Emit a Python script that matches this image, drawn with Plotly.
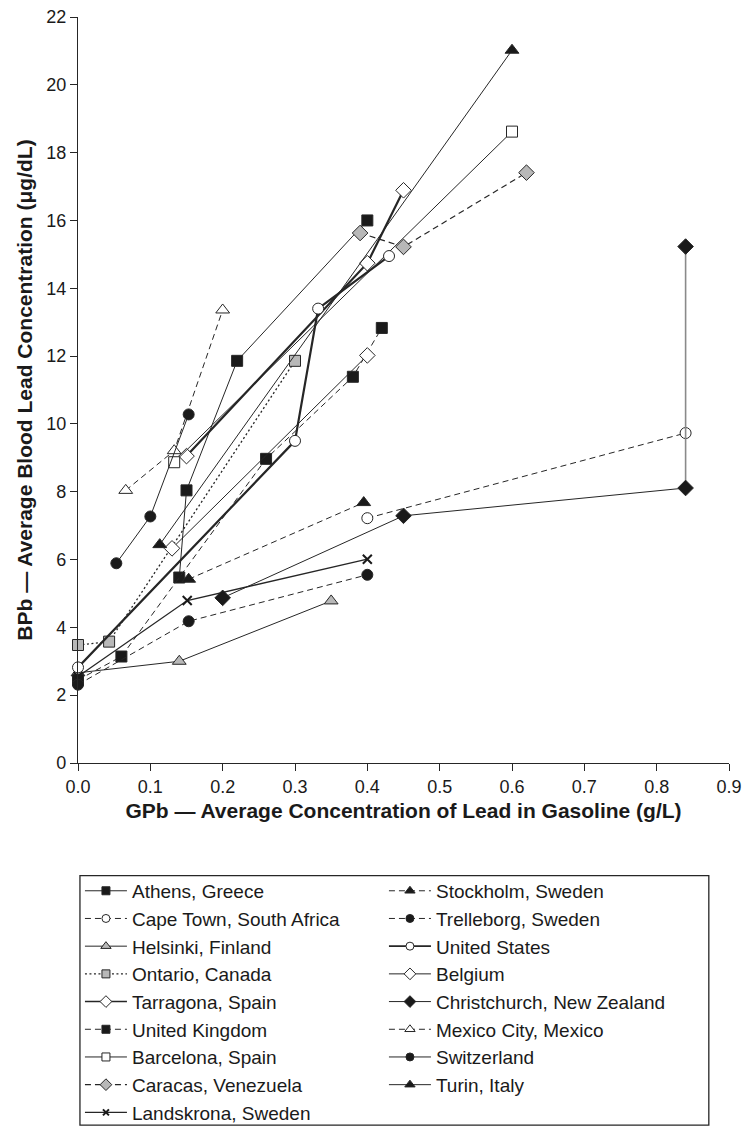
import plotly.graph_objects as go

# ---------------- data ----------------
athens_x = [0.14, 0.15, 0.22, 0.40]
athens_y = [5.47, 8.04, 11.86, 16.0]
capetown_x = [0.40, 0.84]
capetown_y = [7.22, 9.73]
helsinki_x = [0.0, 0.14, 0.35]
helsinki_y = [2.66, 3.0, 4.78]
ontario_x = [0.0, 0.043, 0.30]
ontario_y = [3.48, 3.58, 11.86]
tarragona_x = [0.15, 0.40, 0.45]
tarragona_y = [9.05, 14.74, 16.89]
uk_x = [0.0, 0.06, 0.26, 0.38, 0.42]
uk_y = [2.45, 3.14, 8.97, 11.39, 12.83]
barcelona_x = [0.133, 0.60]
barcelona_y = [8.87, 18.62]
caracas_x = [0.39, 0.45, 0.62]
caracas_y = [15.63, 15.22, 17.41]
landskrona_x = [0.0, 0.151, 0.40]
landskrona_y = [2.55, 4.79, 6.01]
stockholm_x = [0.153, 0.395]
stockholm_y = [5.42, 7.68]
trelleborg_x = [0.0, 0.153, 0.40]
trelleborg_y = [2.31, 4.18, 5.55]
us_x = [0.0, 0.30, 0.332, 0.43]
us_y = [2.82, 9.5, 13.4, 14.95]
belgium_x = [0.13, 0.40]
belgium_y = [6.33, 12.02]
christchurch_x = [0.20, 0.45, 0.84, 0.84]
christchurch_y = [4.87, 7.29, 8.11, 15.23]
mexico_x = [0.066, 0.133, 0.20]
mexico_y = [8.04, 9.21, 13.36]
switzerland_x = [0.053, 0.10, 0.153]
switzerland_y = [5.89, 7.27, 10.28]
turin_x = [0.113, 0.60]
turin_y = [6.44, 21.02]

x_ticks = [0.0, 0.1, 0.2, 0.3, 0.4, 0.5, 0.6, 0.7, 0.8, 0.9]
y_ticks = [0, 2, 4, 6, 8, 10, 12, 14, 16, 18, 20, 22]

# ---------------- styles ----------------
INK = "#262626"
BLACK = "#1a1a1a"
GRAY = "#b8b8b8"
WHITE = "#ffffff"
DASH = "6px,4px"
DOT = "2px,2.5px"

# name, x, y, symbol, fill, dash, width
series = [
    ("Athens, Greece", athens_x, athens_y, "square", BLACK, "solid", 1),
    ("Cape Town, South Africa", capetown_x, capetown_y, "circle", WHITE, DASH, 1),
    ("Helsinki, Finland", helsinki_x, helsinki_y, "triangle-up", GRAY, "solid", 1),
    ("Ontario, Canada", ontario_x, ontario_y, "square", GRAY, DOT, 1.3),
    ("Tarragona, Spain", tarragona_x, tarragona_y, "diamond", WHITE, "solid", 2.2),
    ("United Kingdom", uk_x, uk_y, "square", BLACK, DASH, 1),
    ("Barcelona, Spain", barcelona_x, barcelona_y, "square", WHITE, "solid", 1),
    ("Caracas, Venezuela", caracas_x, caracas_y, "diamond", GRAY, DASH, 1.2),
    ("Landskrona, Sweden", landskrona_x, landskrona_y, "x-thin", BLACK, "solid", 1.3),
    ("Stockholm, Sweden", stockholm_x, stockholm_y, "triangle-up", BLACK, DASH, 1),
    ("Trelleborg, Sweden", trelleborg_x, trelleborg_y, "circle", BLACK, DASH, 1),
    ("United States", us_x, us_y, "circle", WHITE, "solid", 2.2),
    ("Belgium", belgium_x, belgium_y, "diamond", WHITE, "solid", 1),
    ("Christchurch, New Zealand", christchurch_x, christchurch_y, "diamond", BLACK, "solid", 1),
    ("Mexico City, Mexico", mexico_x, mexico_y, "triangle-up", WHITE, DASH, 1),
    ("Switzerland", switzerland_x, switzerland_y, "circle", BLACK, "solid", 1),
    ("Turin, Italy", turin_x, turin_y, "triangle-up", BLACK, "solid", 1),
]

fig = go.Figure()


def marker_for(sym, fill, size):
    if sym == "x-thin":
        return dict(symbol="x-thin", size=size - 2, line=dict(color=BLACK, width=2), color=BLACK)
    return dict(symbol=sym, size=size + (1 if sym in ("triangle-up", "diamond") else 0),
                color=fill, line=dict(color=INK, width=1))


for name, xs, ys, sym, fill, dash, w in series:
    if name.startswith("Christchurch"):
        # dark polyline for the first three points, gray vertical connector, then markers
        fig.add_trace(go.Scatter(x=xs[:3], y=ys[:3], mode="lines",
                                 line=dict(color=INK, width=w), showlegend=False,
                                 hoverinfo="skip"))
        fig.add_trace(go.Scatter(x=xs[2:], y=ys[2:], mode="lines",
                                 line=dict(color="#8a8a8a", width=1.6), showlegend=False,
                                 hoverinfo="skip"))
        fig.add_trace(go.Scatter(x=xs, y=ys, mode="markers", name=name,
                                 marker=marker_for(sym, fill, 11),
                                 showlegend=False, cliponaxis=False))
        continue
    fig.add_trace(go.Scatter(
        x=xs, y=ys, mode="lines+markers", name=name,
        line=dict(color=INK, width=w, dash=dash),
        marker=marker_for(sym, fill, 11),
        showlegend=False, cliponaxis=False,
    ))

# legend entries (two columns, column-major order -> interleave for horizontal legend)
col1 = series[:9]
col2 = series[9:]
order = []
for i in range(9):
    order.append(col1[i])
    if i < len(col2):
        order.append(col2[i])

for name, xs, ys, sym, fill, dash, w in order:
    fig.add_trace(go.Scatter(
        x=[None], y=[None], mode="lines+markers", name=name,
        line=dict(color=INK, width=min(w, 1.6), dash=dash),
        marker=marker_for(sym, fill, 8),
        showlegend=True,
    ))

fig.update_layout(
    width=745, height=1144,
    margin=dict(l=78, r=16, t=17, b=371),
    paper_bgcolor="white", plot_bgcolor="white",
    font=dict(family="Liberation Sans, Arial, sans-serif", size=18, color=BLACK),
    xaxis=dict(
        range=[0, 0.9], tickvals=x_ticks, ticktext=[f"{v:.1f}" for v in x_ticks],
        showgrid=False, zeroline=False, showline=True, linecolor=INK, linewidth=1.3,
        ticks="outside", ticklen=7, tickcolor=INK, tickwidth=1.3,
        tickfont=dict(size=18), ticklabeloverflow="allow", automargin=False,
        title=dict(text="<b>GPb — Average Concentration of Lead in Gasoline (g/L)</b>",
                   font=dict(size=21), standoff=7),
    ),
    yaxis=dict(
        range=[0, 22], tickvals=y_ticks,
        showgrid=False, zeroline=False, showline=True, linecolor=INK, linewidth=1.3,
        ticks="outside", ticklen=7, tickcolor=INK, tickwidth=1.3,
        tickfont=dict(size=18), ticklabeloverflow="allow", automargin=False,
        title=dict(text="<b>BPb — Average Blood Lead Concentration (μg/dL)</b>",
                   font=dict(size=21), standoff=7),
    ),
    legend=dict(
        orientation="h", x=0.003, xanchor="left", y=-0.146, yanchor="top",
        entrywidth=247, itemwidth=42, traceorder="normal",
        font=dict(size=19), bgcolor="rgba(0,0,0,0)", borderwidth=0,
    ),
    shapes=[dict(type="rect", xref="paper", yref="paper",
                 x0=0.003, x1=0.969, y0=-0.151, y1=-0.4854,
                 line=dict(color=INK, width=1.3), fillcolor="rgba(0,0,0,0)")],
)

# drop the browser's default body margin (and scrollbars) so the figure fills the window
fig.write_html(
    "out.html",
    config={"displayModeBar": False},
    post_script="document.body.style.margin='0px';document.body.style.overflow='hidden';",
)
